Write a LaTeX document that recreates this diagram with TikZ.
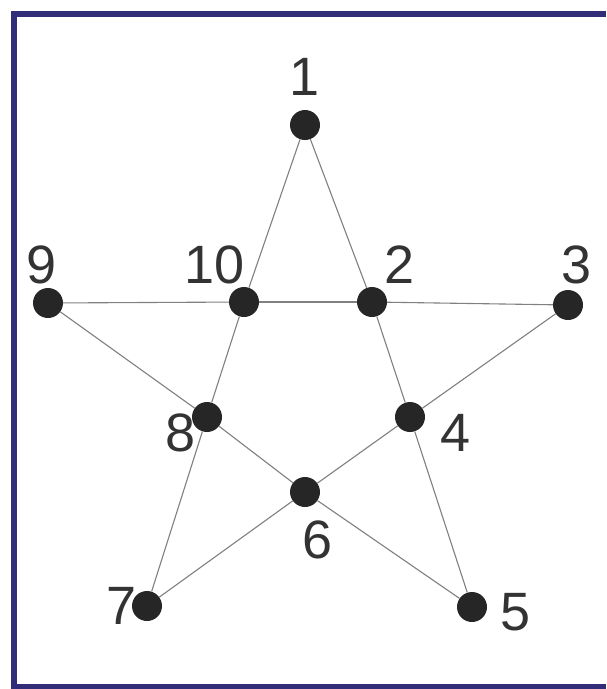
\documentclass[tikz,border=0pt]{standalone}
\usepackage{fontspec}
\setmainfont{Liberation Sans}
\begin{document}
\begin{tikzpicture}[x=1pt,y=-1pt,
  dot/.style={circle,fill=black!85,inner sep=0pt,minimum size=30pt},
  lab/.style={font=\fontsize{54}{54}\selectfont,text=black!80,inner sep=0pt},
  edge/.style={draw=black!50,line width=1.1pt}]
\useasboundingbox (0,0) rectangle (606,689);
\fill[white] (0,0) rectangle (606,689);
\draw[line width=6pt,draw={rgb,255:red,50;green,45;blue,120}] (606,14) -- (14,14) -- (14,687) -- (606,687);
\node[dot] (n1) at (305,125) {};
\node[dot] (n2) at (372,302) {};
\node[dot] (n3) at (568,305) {};
\node[dot] (n4) at (410,417) {};
\node[dot] (n5) at (472,607) {};
\node[dot] (n6) at (305,492) {};
\node[dot] (n7) at (147,606) {};
\node[dot] (n8) at (207,417) {};
\node[dot] (n9) at (48,303) {};
\node[dot] (n10) at (244,302) {};
\node[lab] (l1) at (305,77) {1};
\node[lab] (l2) at (400,265) {2};
\node[lab] (l3) at (577,265) {3};
\node[lab] (l4) at (456,433) {4};
\node[lab] (l5) at (516,612) {5};
\node[lab] (l6) at (318,540) {6};
\node[lab] (l7) at (122,606) {7};
\node[lab] (l8) at (181,433) {8};
\node[lab] (l9) at (42,265) {9};
\node[lab] (l10) at (215,265) {10};
\draw[edge] (n1) -- (n10); \draw[edge] (n10) -- (n8); \draw[edge] (n8) -- (n7);
\draw[edge] (n1) -- (n2); \draw[edge] (n2) -- (n4); \draw[edge] (n4) -- (n5);
\draw[edge] (n9) -- (n10); \draw[edge] (n10) -- (n2); \draw[edge] (n2) -- (n3);
\draw[edge] (n9) -- (n8); \draw[edge] (n8) -- (n6); \draw[edge] (n6) -- (n5);
\draw[edge] (n7) -- (n6); \draw[edge] (n6) -- (n4); \draw[edge] (n4) -- (n3);
\end{tikzpicture}
\end{document}
